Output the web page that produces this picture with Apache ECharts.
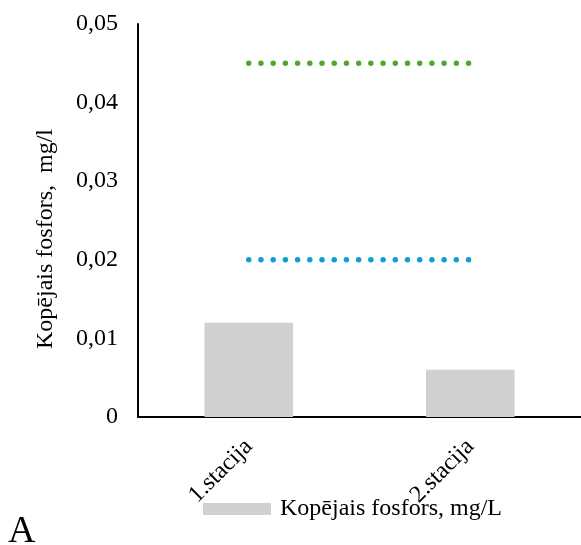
<!DOCTYPE html>
<html>
<head>
<meta charset="utf-8">
<script src="https://cdn.jsdelivr.net/npm/echarts@6/dist/echarts.min.js"></script>
<style>
  html, body { margin: 0; padding: 0; background: #fff; }
  #chart { width: 581px; height: 545px; }
</style>
</head>
<body>
<div id="chart"></div>
<script>
// Total phosphorus at two sampling stations, with two reference levels
const stations = ['1.stacija', '2.stacija'];
const phosphorus = [0.012, 0.006];
const limitHigh = [0.045, 0.045];
const limitLow = [0.02, 0.02];
const yTicks = [0, 0.01, 0.02, 0.03, 0.04, 0.05];
const yTitle = 'Kopējais fosfors,  mg/l';
const seriesName = 'Kopējais fosfors, mg/L';
const panelLetter = 'A';

const font = 'Liberation Serif, Times New Roman, serif';
const fontSize = 24;
const chart = echarts.init(document.getElementById('chart'), null, { renderer: 'canvas' });

const dotted = (color) => ({
  color: color,
  width: 5.5,
  type: [0.01, 12.2],
  cap: 'round'
});

chart.setOption({
  animation: false,
  backgroundColor: '#fff',
  textStyle: { fontFamily: font },
  title: {
    text: panelLetter,
    left: 3,
    bottom: -11,
    textStyle: { fontFamily: font, fontSize: 38, fontWeight: 'normal', color: '#000' }
  },
  graphic: [
    {
      type: 'text',
      x: 46,
      y: 239,
      rotation: Math.PI / 2,
      style: {
        text: yTitle,
        font: fontSize + 'px ' + font,
        fill: '#000',
        align: 'center',
        verticalAlign: 'middle'
      }
    }
  ],
  legend: {
    data: [{ name: seriesName, icon: 'rect' }],
    left: 203,
    top: 497,
    padding: 0,
    itemWidth: 68,
    itemHeight: 12,
    textStyle: { fontFamily: font, fontSize: fontSize, color: '#000', padding: [0, 0, 0, 4] }
  },
  grid: { left: 138, right: 0, top: 24, bottom: 128, containLabel: false },
  xAxis: {
    type: 'category',
    data: stations,
    axisLine: { lineStyle: { color: '#000', width: 2 } },
    axisTick: { show: false },
    axisLabel: { rotate: 45, margin: 26, fontFamily: font, fontSize: fontSize, color: '#000' }
  },
  yAxis: {
    type: 'value',
    min: yTicks[0],
    max: yTicks[yTicks.length - 1],
    interval: 0.01,
    axisLine: { show: true, lineStyle: { color: '#000', width: 2 } },
    axisTick: { show: false },
    splitLine: { show: false },
    axisLabel: {
      margin: 20,
      fontFamily: font,
      fontSize: fontSize,
      color: '#000',
      formatter: (v) => (v === 0 ? '0' : v.toFixed(2).replace('.', ','))
    }
  },
  series: [
    {
      name: seriesName,
      type: 'bar',
      data: phosphorus,
      barWidth: '40%',
      itemStyle: { color: '#d0d0d0' }
    },
    {
      name: 'limitHigh',
      type: 'line',
      data: limitHigh,
      symbol: 'none',
      lineStyle: dotted('#4ea72e')
    },
    {
      name: 'limitLow',
      type: 'line',
      data: limitLow,
      symbol: 'none',
      lineStyle: dotted('#0e9ed5')
    }
  ]
});
</script>
</body>
</html>
